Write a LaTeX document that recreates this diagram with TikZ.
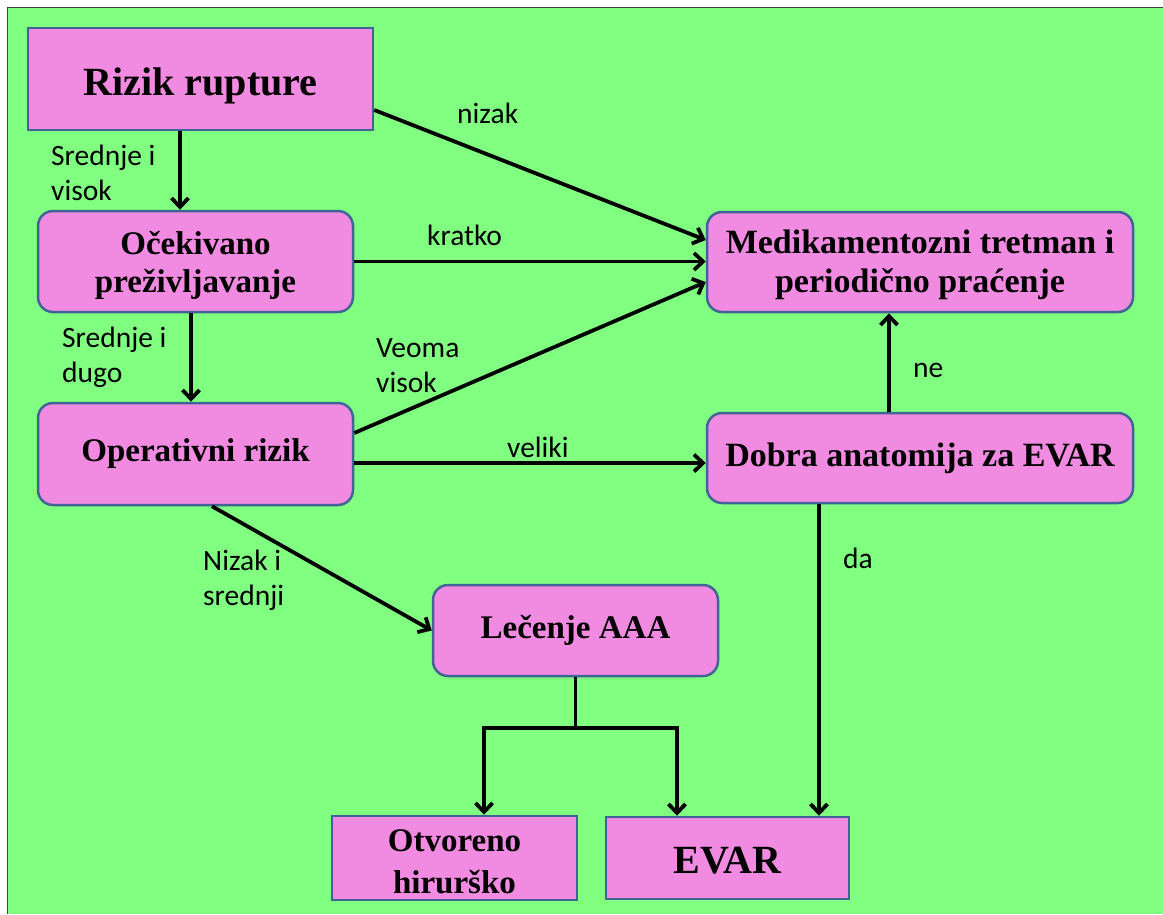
\documentclass[tikz,border=0pt]{standalone}
\usepackage{fontspec}
\setmainfont{Liberation Serif}
\newfontfamily\labfont{Carlito}
\usetikzlibrary{arrows.meta,calc}
\definecolor{bggreen}{RGB}{128,255,128}
\definecolor{boxpink}{RGB}{241,138,225}
\definecolor{boxline}{RGB}{65,100,150}
\newcommand{\lowerby}[2]{\raisebox{-#1}[\height][\depth]{#2}}
\tikzset{
  box/.style={draw=boxline, fill=boxpink, line width=2.5pt, inner sep=0pt,
    align=center, text=black, font=\bfseries\fontsize{33}{38}\selectfont},
  rbox/.style={box, rounded corners=15pt},
  conn/.style={line width=3.8pt, draw=black},
  arr/.style={conn, -{Straight Barb[length=9pt,width=17pt,line width=3.8pt]}},
  lab/.style={anchor=base west, inner sep=0pt, align=left, text=black,
    font=\labfont\fontsize{29.5}{35}\selectfont},
}
\begin{document}
\begin{tikzpicture}[x=1pt,y=-1pt]
\useasboundingbox (0,0) rectangle (1163,914);
\fill[white] (0,0) rectangle (1163,914);
\fill[bggreen] (7.5,7.5) rectangle (1163,914);
\draw[line width=1.3pt, black!75] (1163,7.5) -- (7.5,7.5) -- (7.5,914);

% boxes
\node[box, minimum width=345pt, minimum height=102pt, font=\bfseries\fontsize{40}{46}\selectfont] (rizik) at (200.5,79) {\lowerby{7pt}{Rizik rupture}};
\node[rbox, minimum width=315pt, minimum height=101pt] (ocek) at (195.5,261.5) {\lowerby{4pt}{\begin{tabular}{@{}c@{}}Očekivano\\preživljavanje\end{tabular}}};
\node[rbox, minimum width=315pt, minimum height=102pt] (oper) at (195.5,454) {Operativni rizik};
\node[rbox, minimum width=426pt, minimum height=100pt, font=\bfseries\fontsize{34}{39}\selectfont] (med) at (920,262) {\lowerby{3pt}{\begin{tabular}{@{}c@{}}Medikamentozni tretman i\\periodično praćenje\end{tabular}}};
\node[rbox, minimum width=426pt, minimum height=90pt, font=\bfseries\fontsize{34}{39}\selectfont] (dobra) at (920,458) {Dobra anatomija za EVAR};
\node[rbox, minimum width=285pt, minimum height=91pt] (lec) at (575.5,630.5) {Lečenje AAA};
\node[box, minimum width=245pt, minimum height=82pt, font=\bfseries\fontsize{33}{42}\selectfont] (otv) at (454.5,858) {\lowerby{6pt}{\begin{tabular}{@{}c@{}}Otvoreno\\hirurško\end{tabular}}};
\node[box, minimum width=243pt, minimum height=82pt, font=\bfseries\fontsize{40}{46}\selectfont] (evar) at (727.5,858) {\lowerby{3pt}{EVAR}};

% connectors
\draw[arr] ($(rizik.south)+(-20.5,0)$) -- ($(ocek.north)+(-15.5,0)$);
\draw[arr] ($(rizik.east)+(0,31)$) -- ($(med.west)+(0,-22)$);
\draw[arr] (ocek.east) -- (ocek.east -| med.west);
\draw[arr] ($(ocek.south)+(-4.5,0)$) -- ($(oper.north)+(-4.5,0)$);
\draw[arr] ($(oper.east)+(0,-21)$) -- ($(med.west)+(0,20)$);
\coordinate (o2) at ($(oper.east)+(0,9)$);
\draw[arr] (o2) -- (o2 -| dobra.west);
\draw[arr] ($(oper.south)+(16.5,0)$) -- (lec.west);
\draw[arr] ($(dobra.north)+(-31,0)$) -- ($(med.south)+(-31,0)$);
\draw[arr] ($(dobra.south)+(-101,0)$) -- ($(evar.north)+(91.5,0)$);
\draw[conn] (lec.south) -- ++(0,51) coordinate (bj);
\draw[arr] (bj) -| ($(otv.north)+(29.5,0)$);
\draw[arr] (bj) -| ($(evar.north)+(-50.5,0)$);

% labels (base = baseline of last line)
\node[lab] (l1) at (51,200) {Srednje i\\visok};
\node[lab] (l2) at (457,123) {nizak};
\node[lab] (l3) at (427,245) {kratko};
\node[lab] (l4) at (62,382) {Srednje i\\dugo};
\node[lab] (l5) at (376,392) {Veoma\\visok};
\node[lab] (l6) at (507,457) {veliki};
\node[lab] (l7) at (203,605) {Nizak i\\srednji};
\node[lab] (l8) at (913,377) {ne};
\node[lab] (l9) at (843,568) {da};
\end{tikzpicture}
\end{document}
